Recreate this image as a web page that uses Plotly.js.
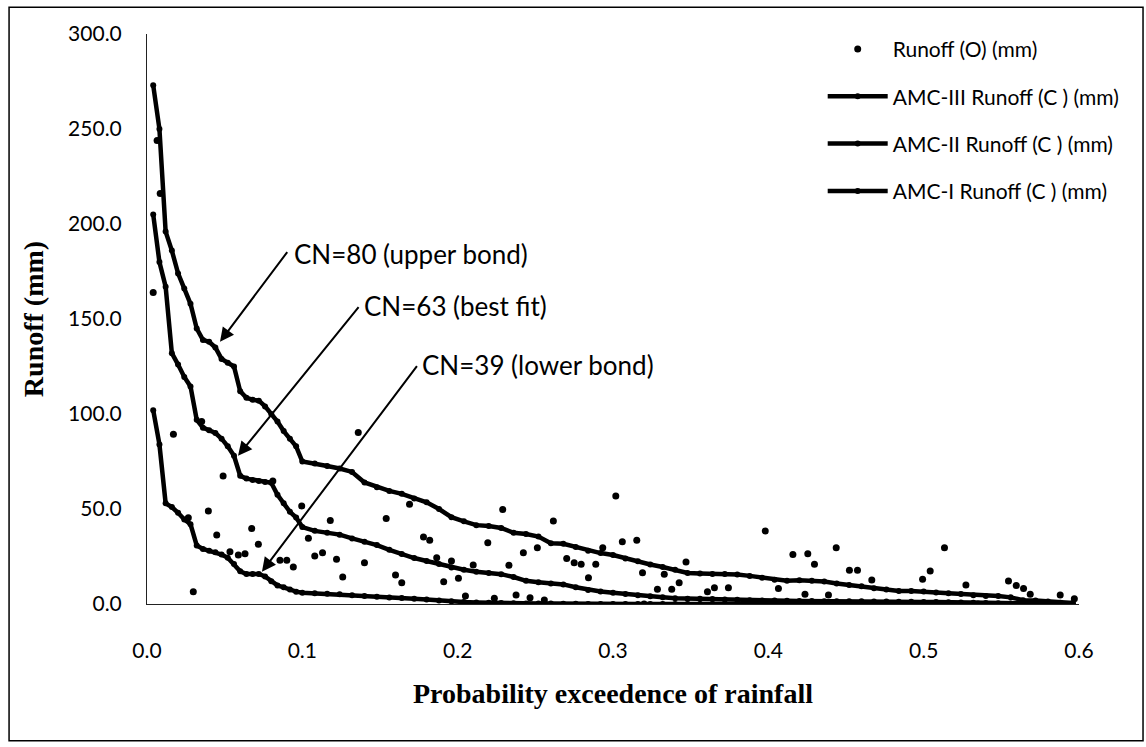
<!DOCTYPE html>
<html>
<head>
<meta charset="utf-8">
<script src="https://cdn.plot.ly/plotly-3.0.1.min.js"></script>
<style>
  html, body { margin: 0; padding: 0; background: #fff; }
  #chart { width: 1146px; height: 747px; }
</style>
</head>
<body>
<div id="chart"></div>
<script>
// ---- Data ----
const seriesNames = [
  'Runoff (O) (mm)',
  'AMC-III Runoff (C ) (mm)',
  'AMC-II Runoff (C ) (mm)',
  'AMC-I Runoff (C ) (mm)'
];

// Observed runoff (scatter points)
const probObs = [
  0.004, 0.0065, 0.0085, 0.017, 0.0266, 0.0298, 0.0352, 0.0395, 0.0449, 0.049,
  0.0534, 0.0588, 0.0631, 0.0674, 0.0717, 0.081, 0.0856, 0.09, 0.0942, 0.0996,
  0.1039, 0.108, 0.113, 0.118, 0.122, 0.126, 0.136, 0.14, 0.154, 0.16,
  0.164, 0.169, 0.178, 0.182, 0.1865, 0.191, 0.196, 0.2005, 0.205, 0.21,
  0.2194, 0.2236, 0.229, 0.233, 0.2376, 0.2423, 0.2466, 0.2513, 0.2558, 0.2616,
  0.2702, 0.275, 0.2795, 0.2842, 0.2889, 0.2934, 0.3018, 0.306, 0.3153, 0.319,
  0.32, 0.3286, 0.333, 0.3378, 0.3426, 0.347, 0.3608, 0.3653, 0.3743, 0.39,
  0.398, 0.4065, 0.4158, 0.4236, 0.4254, 0.4297, 0.4387, 0.4437, 0.4522, 0.4574,
  0.4666, 0.475, 0.4993, 0.5042, 0.5134, 0.5272, 0.535, 0.5546, 0.5596, 0.5643,
  0.5686, 0.577, 0.5879, 0.597
];
const runoffObs = [
  164, 244, 216, 89.3, 45.4, 6.5, 96, 49, 36.3, 67.4,
  27.5, 25.8, 26.5, 39.8, 31.4, 64.7, 23, 23, 19.5, 51.6,
  34.6, 25.3, 27, 44, 23.5, 14.2, 90.2, 21.7, 45, 15.3,
  11.2, 52.5, 35.3, 33.5, 24.4, 11.7, 22.6, 13.5, 4.2, 20.5,
  32.3, 3, 49.8, 20.4, 4.7, 27, 3.3, 29.6, 2.1, 43.7,
  24, 21.7, 20.9, 13.8, 20.9, 29.6, 56.8, 32.8, 33.5, 16.5,
  0, 7.7, 15.6, 7.7, 11.2, 22.1, 6.5, 8.6, 8.6, 0,
  38.4, 8.1, 26.1, 5.1, 26.5, 20.9, 4.7, 29.6, 17.7, 17.7,
  12.6, 0, 13, 17.4, 29.6, 10, 0, 12.1, 9.8, 8.1,
  5.1, 0, 4.7, 2.8
];

// Computed runoff curves (shared probability positions)
const probCalc = [
  0.004, 0.008, 0.012, 0.016, 0.020, 0.024, 0.028, 0.032, 0.036, 0.040,
  0.044, 0.048, 0.052, 0.056, 0.060, 0.064, 0.068, 0.072, 0.076, 0.080,
  0.084, 0.088, 0.092, 0.096, 0.100,
  0.108, 0.116, 0.124, 0.132, 0.140, 0.148, 0.156, 0.164, 0.172, 0.180,
  0.188, 0.196, 0.204, 0.212, 0.220, 0.228, 0.236, 0.244, 0.252, 0.260,
  0.268, 0.276, 0.284, 0.292, 0.300, 0.308, 0.316, 0.324, 0.332, 0.340,
  0.348, 0.356, 0.364, 0.372, 0.380, 0.388, 0.396, 0.404, 0.412, 0.420,
  0.428, 0.436, 0.444, 0.452, 0.460, 0.468, 0.476, 0.484, 0.492, 0.500,
  0.508, 0.516, 0.524, 0.532, 0.540, 0.548, 0.556, 0.564, 0.572, 0.580,
  0.588, 0.596
];
const amc3 = [
  273, 250, 196, 186, 174, 166, 158, 145, 139, 138,
  135, 129, 127, 125, 112, 108.5, 107.5, 107, 104, 100,
  96, 91, 87, 83, 75,
  74, 72.6, 71.3, 69.5, 64, 61.5, 59.5, 58, 55.5, 53.5,
  50, 45.7, 43.5, 41.5, 41, 40, 37.5, 36.8, 35.5, 32,
  31.7, 30, 28, 26.8, 25.8, 24, 22.5, 20.8, 19.5, 18,
  16.3, 16, 15.8, 15.8, 15.5, 14.8, 13.8, 12.8, 12.2, 12.5,
  12.2, 11.8, 10.8, 10, 9.4, 8.3, 7.6, 6.9, 6.8, 6.6,
  6, 5.6, 5.3, 4.6, 4.2, 4.2, 3.5, 2, 1.8, 1.3,
  0.6, 0.5
];
const amc2 = [
  205, 180, 167, 132, 126, 119.5, 114.5, 97, 92.8, 91.5,
  90, 87, 83, 78, 67.5, 66, 65.3, 64.8, 64.2, 63.8,
  57.5, 53, 48.5, 45.5, 40.5,
  38.5, 37.5, 36.5, 34.5, 32.8, 31, 28.5, 26.3, 24.2, 22.6,
  21, 19.2, 18, 17, 16.3, 15.7, 14.2, 12.2, 11.5, 10.8,
  10.3, 8.8, 7.4, 6.6, 5.9, 5.2, 4.6, 4.1, 3.5, 3,
  2.8, 2.7, 2.6, 2.4, 2.2, 2, 1.9, 1.8, 1.7, 1.6,
  1.6, 1.5, 1.5, 1.4, 1.4, 1.3, 1.3, 1.2, 1.2, 1.1,
  1, 0.9, 0.8, 0.6, 0.5, 0.4, 0.3, 0.2, 0.1, 0,
  0, 0
];
const amc1 = [
  102, 84, 53, 51, 48, 44.5, 42, 30.8, 29, 28,
  27.2, 26, 24.3, 21, 17.2, 15.8, 15.8, 15.8, 14.5, 12,
  9.8, 8.8, 7.6, 6.5, 5.9,
  5.6, 5.4, 5.1, 4.6, 4.2, 3.8, 3.4, 3.1, 2.8, 2.4,
  1.8, 1.4, 1, 0.8, 0.6, 0.5, 0.4, 0.3, 0.2, 0.2,
  0.1, 0.1, 0, 0, 0, 0, 0, 0, 0, 0,
  0, 0, 0, 0, 0, 0, 0, 0, 0, 0,
  0, 0, 0, 0, 0, 0, 0, 0, 0, 0,
  0, 0, 0, 0, 0, 0, 0, 0, 0, 0,
  0, 0
];

// Annotation labels and arrow (head / tail) positions in data units
const cnLabels = ['CN=80 (upper bond)', 'CN=63 (best fit)', 'CN=39 (lower bond)'];
const labelPos = [[0.0934, 184], [0.1384, 157], [0.1758, 126]];
const arrowHead = [[0.047, 138], [0.0586, 78], [0.074, 17]];
const arrowTail = [[0.091, 186], [0.137, 157], [0.1745, 126]];

// ---- Chart ----
const sansFamily = 'Lato, "Open Sans", sans-serif';
const serifFamily = '"Liberation Serif", "Times New Roman", serif';
const tickFont = { family: sansFamily, size: 21, color: '#000' };
const lineStyle = { color: '#000', width: 4.5 };
const curveMarker = { color: '#000', size: 6 };

const traces = [
  { x: probObs, y: runoffObs, name: seriesNames[0], type: 'scatter', mode: 'markers',
    marker: { color: '#000', size: 7 }, legendgroup: 'g0' },
  { x: probCalc, y: amc3, name: seriesNames[1], type: 'scatter', mode: 'lines+markers',
    line: lineStyle, marker: curveMarker, legendgroup: 'g1' },
  { x: probCalc, y: amc2, name: seriesNames[2], type: 'scatter', mode: 'lines+markers',
    line: lineStyle, marker: curveMarker, legendgroup: 'g2' },
  { x: probCalc, y: amc1, name: seriesNames[3], type: 'scatter', mode: 'lines+markers',
    line: lineStyle, marker: curveMarker, legendgroup: 'g3' }
];

const annotations = [];
for (let i = 0; i < cnLabels.length; i++) {
  annotations.push({
    x: arrowHead[i][0], y: arrowHead[i][1], xref: 'x', yref: 'y',
    ax: arrowTail[i][0], ay: arrowTail[i][1], axref: 'x', ayref: 'y',
    text: '', showarrow: true, arrowhead: 2, arrowsize: 1.4, arrowwidth: 2, arrowcolor: '#000'
  });
  annotations.push({
    x: labelPos[i][0], y: labelPos[i][1], xref: 'x', yref: 'y',
    text: cnLabels[i], showarrow: false, xanchor: 'left', yanchor: 'middle',
    font: { family: sansFamily, size: 26, color: '#000' }
  });
}

const layout = {
  width: 1146, height: 747,
  margin: { l: 147, r: 67, t: 34, b: 143, pad: 0 },
  paper_bgcolor: '#fff', plot_bgcolor: '#fff',
  showlegend: true,
  legend: {
    x: 0.725, y: 1.009, xanchor: 'left', yanchor: 'top',
    font: { family: sansFamily, size: 21, color: '#000' },
    itemwidth: 60,
    tracegroupgap: 17, bgcolor: 'rgba(0,0,0,0)', traceorder: 'grouped'
  },
  xaxis: {
    range: [0, 0.6], dtick: 0.1, tick0: 0, tickformat: '.1f',
    showgrid: false, zeroline: false, showline: true, linecolor: '#222', linewidth: 1,
    ticks: '', tickfont: tickFont, ticklabelstandoff: 28,
    title: { text: 'Probability exceedence of rainfall', standoff: 22,
      font: { family: serifFamily, size: 28, color: '#000', weight: 'bold' } }
  },
  yaxis: {
    range: [0, 300], dtick: 50, tick0: 0, tickformat: '.1f',
    showgrid: false, zeroline: false, showline: true, linecolor: '#222', linewidth: 1,
    ticks: '', tickfont: tickFont, ticklabelstandoff: 20,
    title: { text: 'Runoff (mm)', standoff: 16,
      font: { family: serifFamily, size: 28, color: '#000', weight: 'bold' } }
  },
  annotations: annotations,
  shapes: [{
    type: 'rect', xref: 'paper', yref: 'paper',
    x0: -0.148, x1: 1.0687, y0: -0.24, y1: 1.047,
    line: { color: '#000', width: 1.5 }, fillcolor: 'rgba(0,0,0,0)', layer: 'above'
  }]
};

Plotly.newPlot('chart', traces, layout, { displayModeBar: false, staticPlot: true });
</script>
</body>
</html>
